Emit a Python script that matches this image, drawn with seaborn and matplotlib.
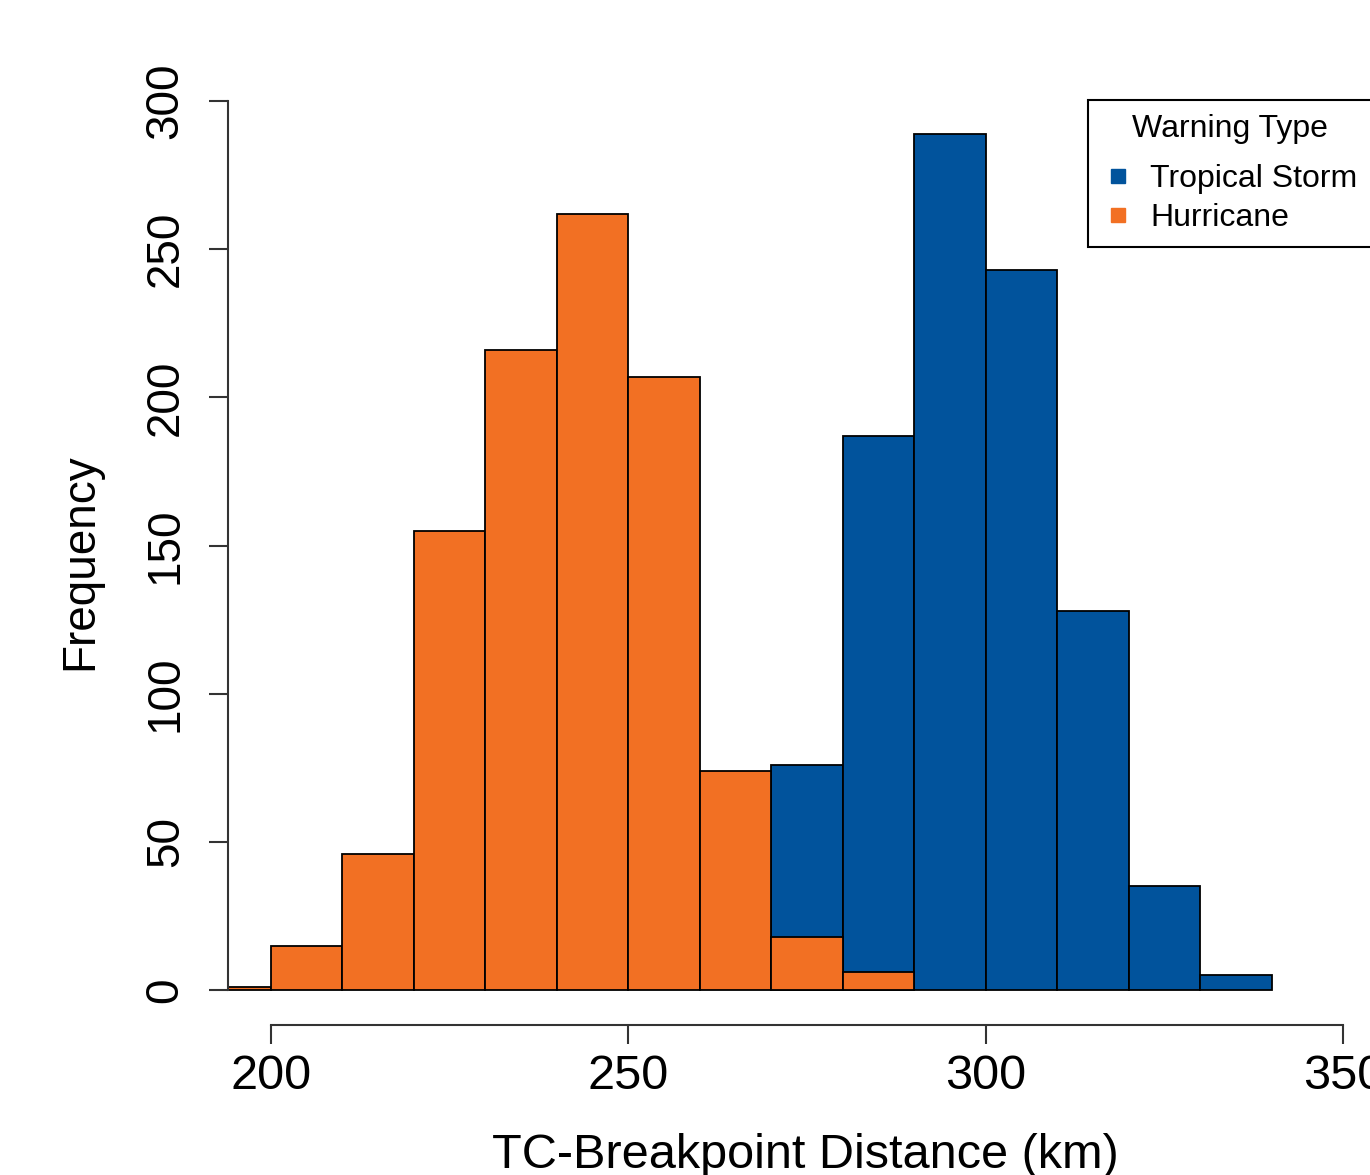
import numpy as np
import pandas as pd
import matplotlib
matplotlib.use("Agg")
import matplotlib.pyplot as plt
from matplotlib.lines import Line2D
import seaborn as sns

# Histogram bins (km) and counts
hurricane_edges = [194, 200, 210, 220, 230, 240, 250, 260, 270, 280, 290]
hurricane_counts = [1, 15, 46, 155, 216, 262, 207, 74, 18, 6]

storm_edges = [270, 280, 290, 300, 310, 320, 330, 340]
storm_counts = [76, 187, 289, 243, 128, 35, 5]

x_ticks = [200, 250, 300, 350]
y_ticks = [0, 50, 100, 150, 200, 250, 300]

storm_color = "#01539C"
hurricane_color = "#F27023"

sns.set_style("white")
plt.rcParams["font.family"] = ["Liberation Sans", "DejaVu Sans"]
plt.rcParams.update({"text.color": "black", "axes.labelcolor": "black",
                     "xtick.color": "black", "ytick.color": "black"})

W, H = 1370, 1175
fig = plt.figure(figsize=(W / 100, H / 100), dpi=100)
# plot region in pixels: left 228, right 1382, top 99, bottom 1025
ax = fig.add_axes([228 / W, 1 - 1025 / H, (1382 - 228) / W, (1025 - 99) / H])


def draw_hist(edges, counts, color):
    e = np.array(edges, dtype=float)
    df = pd.DataFrame({"dist": (e[:-1] + e[1:]) / 2, "n": counts})
    sns.histplot(data=df, x="dist", weights="n", bins=list(edges), color=color,
                 alpha=1, edgecolor="black", linewidth=1.3, ax=ax)


# storms first, hurricanes overlaid on top
draw_hist(storm_edges, storm_counts, storm_color)
draw_hist(hurricane_edges, hurricane_counts, hurricane_color)

ax.set_xlim(194, 355.4)
ax.set_ylim(-11.8, 300.7)

for s in ["top", "right"]:
    ax.spines[s].set_visible(False)
ax.spines["left"].set_bounds(0, 300)
ax.spines["bottom"].set_bounds(200, 350)
for s in ["left", "bottom"]:
    ax.spines[s].set_linewidth(1.5)
    ax.spines[s].set_color("#333333")

ax.set_xticks(x_ticks)
ax.set_yticks(y_ticks)
ax.tick_params(axis="both", bottom=True, left=True, direction="out",
               length=14, width=1.5, color="#333333", labelcolor="black")
ax.tick_params(axis="y", labelrotation=90, pad=15, labelsize=33)
ax.tick_params(axis="x", pad=7, labelsize=35)
for lab in ax.get_yticklabels():
    lab.set_va("center")

ax.set_xlabel("TC-Breakpoint Distance (km)", fontsize=35, labelpad=24)
ax.set_ylabel("Frequency", fontsize=33, labelpad=30)

handles = [
    Line2D([], [], marker="s", linestyle="none", markersize=9.5,
           markerfacecolor=storm_color, markeredgecolor=storm_color),
    Line2D([], [], marker="s", linestyle="none", markersize=9.5,
           markerfacecolor=hurricane_color, markeredgecolor=hurricane_color),
]
leg = fig.legend(handles, ["Tropical Storm", "Hurricane"], title="Warning Type",
                 loc="upper left", bbox_to_anchor=(1088 / W, 1 - 100 / H),
                 bbox_transform=fig.transFigure, borderaxespad=0,
                 fontsize=23, title_fontsize=23, frameon=True, fancybox=False,
                 edgecolor="black", framealpha=1, labelspacing=0.26,
                 handletextpad=0.5, handlelength=1.0, borderpad=0.45)
leg.get_frame().set_linewidth(1.5)
leg._legend_box.sep = 14.4  # extra gap between title and entries

fig.savefig("out.png", dpi=100)
